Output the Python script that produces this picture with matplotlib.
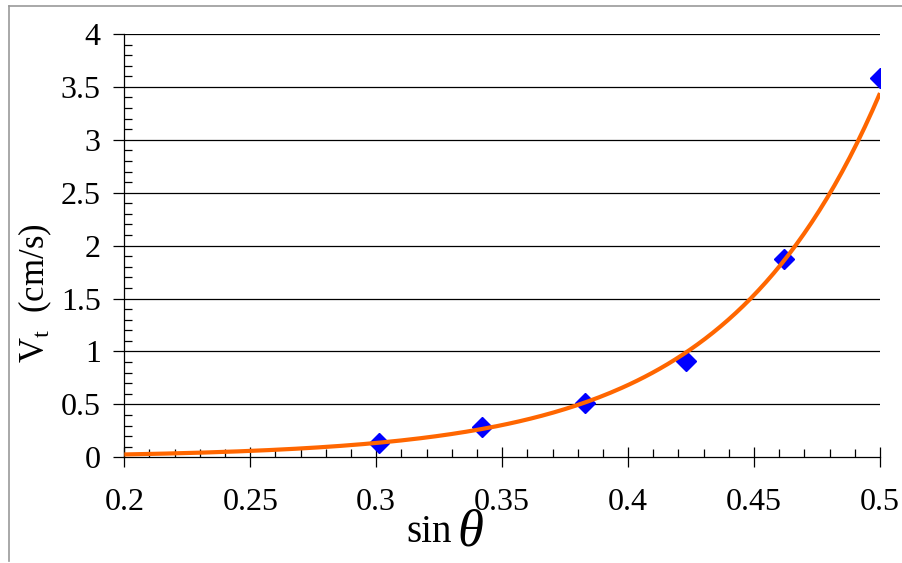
import matplotlib

matplotlib.use("Agg")
import matplotlib.pyplot as plt
import numpy as np
from matplotlib.lines import Line2D
from matplotlib.ticker import MultipleLocator, FormatStrFormatter

plt.rcParams["font.family"] = ["Liberation Serif", "DejaVu Serif"]
plt.rcParams["mathtext.fontset"] = "custom"
plt.rcParams["mathtext.rm"] = "Liberation Serif"
plt.rcParams["mathtext.it"] = "Liberation Serif:italic"

# incline angle (as sin) vs terminal velocity
sin_theta = [0.301, 0.342, 0.383, 0.423, 0.462, 0.500]
v_t = [0.135, 0.29, 0.51, 0.91, 1.87, 3.58]

x_ticks = [0.2, 0.25, 0.3, 0.35, 0.4, 0.45, 0.5]
y_ticks = [0, 0.5, 1, 1.5, 2, 2.5, 3, 3.5, 4]

W, H = 903, 563
fig = plt.figure(figsize=(W / 100, H / 100), dpi=100)

# axes box in pixels: left, top, right, bottom
left, top, right, bottom = 124.3, 34.0, 880.0, 457.3
ax = fig.add_axes([left / W, 1 - bottom / H, (right - left) / W, (bottom - top) / H])

# exponential trendline, least squares on log(v)
b, ln_a = np.polyfit(sin_theta, np.log(v_t), 1)
xf = np.linspace(x_ticks[0], x_ticks[-1], 200)
yf = np.exp(ln_a + b * xf)

ax.plot(sin_theta, v_t, linestyle="none", marker="D", markersize=10.5,
        color="#0000FF", zorder=3)
ax.plot(xf, yf, color="#FF6600", lw=3.0, zorder=4, solid_capstyle="butt")

ax.set_xlim(x_ticks[0], x_ticks[-1])
ax.set_ylim(y_ticks[0], y_ticks[-1])
ax.set_xticks(x_ticks)
ax.set_yticks(y_ticks)
ax.xaxis.set_major_formatter(FormatStrFormatter("%g"))
ax.yaxis.set_major_formatter(FormatStrFormatter("%g"))
ax.xaxis.set_minor_locator(MultipleLocator(0.01))
ax.yaxis.set_minor_locator(MultipleLocator(0.1))

for yv in y_ticks[1:]:
    ax.axhline(yv, color="black", lw=0.9, zorder=1)

for side in ("top", "right"):
    ax.spines[side].set_visible(False)
for side in ("left", "bottom"):
    ax.spines[side].set_linewidth(0.9)
    ax.spines[side].set_zorder(2)

ax.tick_params(axis="x", which="major", direction="inout", length=14, width=0.9,
               pad=15, labelsize=23)
ax.tick_params(axis="x", which="minor", direction="in", length=6, width=0.9)
ax.tick_params(axis="y", which="major", direction="out", length=8, width=0.9,
               pad=9, labelsize=23)
ax.tick_params(axis="y", which="minor", direction="in", length=6, width=0.9)

fig.text(35 / W, 1 - 293 / H, r"V$_\mathrm{t}$  (cm/s)", rotation=90,
         ha="center", va="center", fontsize=25)
fig.text(406 / W, 1 - 542 / H, "sin", ha="left", va="baseline", fontsize=28)
fig.text(457 / W, 1 - 546 / H, "θ", ha="left", va="baseline", fontsize=38,
         style="italic")

# gray outer frame
fig.add_artist(Line2D([9 / W, 9 / W], [1 - 6 / H, 1 - 561 / H], color="#999999", lw=1.2))
fig.add_artist(Line2D([9 / W, 1.0], [1 - 6 / H, 1 - 6 / H], color="#999999", lw=1.2))

fig.savefig("out.png", dpi=100)
